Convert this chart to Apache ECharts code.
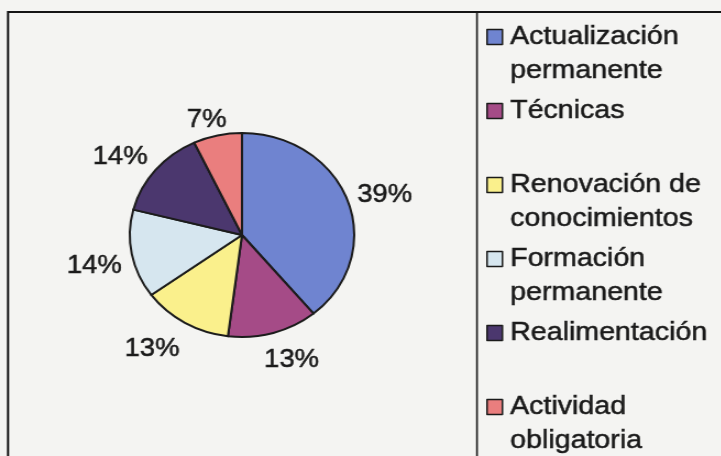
<!DOCTYPE html>
<html>
<head>
<meta charset="utf-8">
<script src="https://cdn.jsdelivr.net/npm/echarts@6/dist/echarts.min.js"></script>
<style>
html,body{margin:0;padding:0;background:#f4f4f2;overflow:hidden;}
#wrap{width:721px;height:456px;overflow:hidden;position:relative;}
#chart{width:656px;height:456px;transform:scaleX(1.1);transform-origin:0 0;}
</style>
</head>
<body>
<div id="wrap"><div id="chart"></div></div>
<script>
// ---- data ----
const categories = ['Actualización permanente', 'Técnicas', 'Renovación de conocimientos', 'Formación permanente', 'Realimentación', 'Actividad obligatoria'];
const values = [39, 13, 13, 14, 14, 7];

// ---- style ----
const palette = ['#6f84d0', '#a54b87', '#faf08c', '#d6e6ef', '#4b376e', '#ea7e7e'];
const FONT = 'Liberation Sans, Arial, sans-serif';
const TEXT = '#1a1a1a';
const CX = 220, CY = 235, R = 102, GAP = 9, LABEL_DY = 6;
const LINE_H = 34;

const total = values.reduce((a, b) => a + b, 0);
const starts = [];
values.reduce((acc, v, i) => { starts[i] = acc; return acc + v; }, 0);

const chart = echarts.init(document.getElementById('chart'), null, {renderer: 'canvas'});

function legendText(name) {
  const wrapped = name.replace(/ (?=\S+$)/, '\n');
  const lines = wrapped.split('\n');
  return ' \n' + wrapped + (lines.length === 1 ? '\n ' : '');
}

const legends = categories.map((name, i) => ({
  orient: 'vertical',
  left: 442,
  top: 37 + 74 * i - 1.5 * LINE_H,
  padding: 0,
  data: [name],
  icon: 'rect',
  itemWidth: 14,
  itemHeight: 15,
  selectedMode: false,
  itemStyle: {borderColor: '#1a1a1a', borderWidth: 1.5},
  textStyle: {fontFamily: FONT, fontSize: 26, lineHeight: LINE_H, color: TEXT,
              textBorderColor: TEXT, textBorderWidth: 0.5, padding: [0, 0, 0, 2]},
  formatter: legendText
}));

const option = {
  animation: false,
  backgroundColor: '#f4f4f2',
  color: palette,
  graphic: [
    {type: 'rect', silent: true, shape: {x: 7.3, y: 12, width: 800, height: 600},
     style: {fill: 'none', stroke: '#151515', lineWidth: 2}},
    {type: 'line', silent: true, shape: {x1: 433.6, y1: 12, x2: 433.6, y2: 460},
     style: {stroke: '#151515', lineWidth: 1.6}}
  ],
  legend: legends,
  series: [{
    type: 'pie',
    center: [CX, CY],
    radius: R,
    startAngle: 90,
    clockwise: true,
    avoidLabelOverlap: false,
    emphasis: {disabled: true},
    itemStyle: {borderColor: '#1c1c1c', borderWidth: 2},
    label: {
      show: true,
      position: 'outside',
      formatter: p => Math.round(p.percent) + '%',
      fontFamily: FONT,
      fontSize: 25,
      color: TEXT,
      textBorderColor: TEXT,
      textBorderWidth: 0.5
    },
    labelLine: {show: false},
    labelLayout: function (p) {
      const i = p.dataIndex;
      const th = (starts[i] + values[i] / 2) / total * Math.PI * 2;
      const dx = Math.sin(th), dy = -Math.cos(th);
      const w = p.labelRect.width, h = p.labelRect.height;
      const cl = v => Math.max(-1, Math.min(1, 2 * v));
      return {
        x: CX + dx * (R + GAP) + cl(dx) * w / 2,
        y: CY + dy * (R + GAP) + cl(dy) * h / 2 + LABEL_DY,
        align: 'center',
        verticalAlign: 'middle'
      };
    },
    data: categories.map((name, i) => ({name: name, value: values[i]}))
  }]
};
chart.setOption(option);
</script>
</body>
</html>
